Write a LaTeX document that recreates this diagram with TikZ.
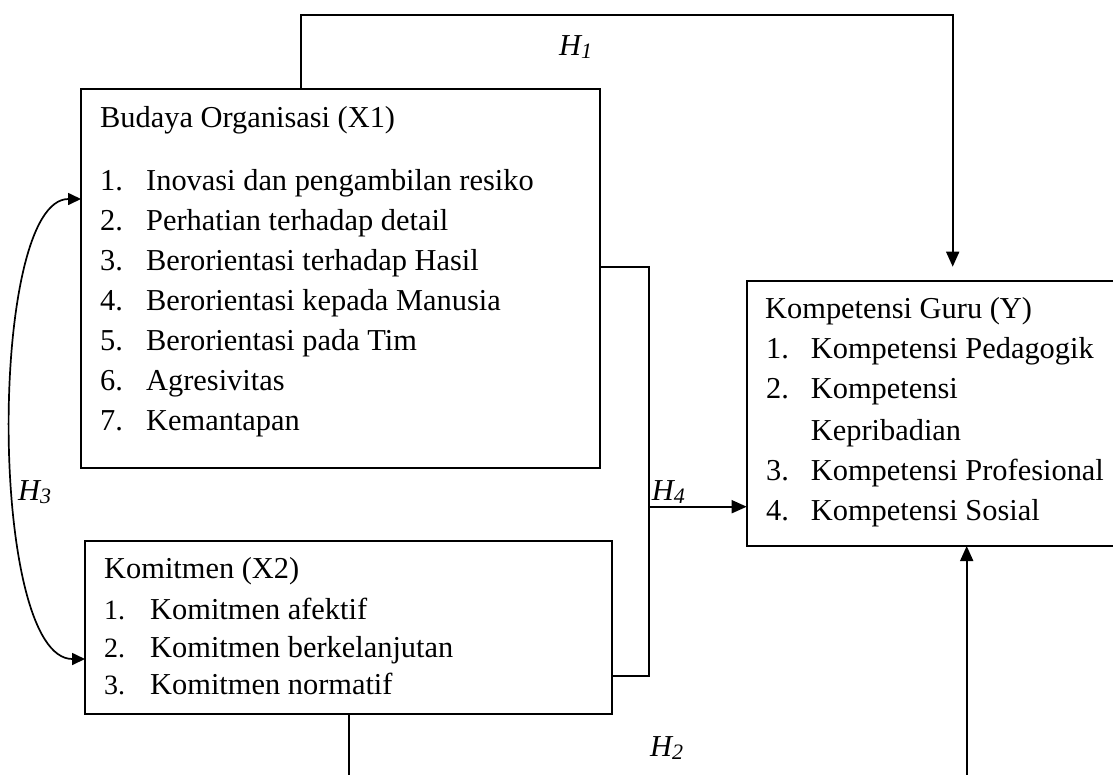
\documentclass[tikz,border=0pt]{standalone}
\usepackage{fontspec}
\setmainfont{Liberation Serif}
\usetikzlibrary{arrows.meta}
\begin{document}
\begin{tikzpicture}[x=1pt,y=-1pt,
  box/.style={draw, line width=1.9pt, inner sep=0pt, outer sep=0pt, anchor=north west},
  conn/.style={line width=1.7pt},
  arr/.style={conn, -{Triangle[length=15pt,width=13pt]}},
  txt/.style={anchor=base west, inner sep=0pt, font=\fontsize{30.4}{36}\selectfont},
  num/.style={anchor=base west, inner sep=0pt, font=\fontsize{28}{34}\selectfont},
  lab/.style={anchor=base west, inner sep=0pt, font=\fontsize{30.4}{36}\selectfont\itshape}]
\useasboundingbox (0,0) rectangle (1113,774);
\clip (0,0) rectangle (1113,774);

% boxes
\node[box, minimum width=519, minimum height=378.4] (x1) at (81,89.3) {};
\node[box, minimum width=526.7, minimum height=173.6] (x2) at (85,540.7) {};
\node[box, minimum width=383.3, minimum height=265.3] (y) at (746.7,280.7) {};

% X1 texts
\node[txt] (x1t) at (100,127) {Budaya Organisasi (X1)};
\foreach \t [count=\k] in {Inovasi dan pengambilan resiko, Perhatian terhadap detail, Berorientasi terhadap Hasil, Berorientasi kepada Manusia, Berorientasi pada Tim, Agresivitas, Kemantapan} {
  \node[txt] (x1n\k) at (100,150+40*\k) {\k.};
  \node[txt] (x1i\k) at (146,150+40*\k) {\t};
}

% X2 texts
\node[txt] (x2t) at (104,578) {Komitmen (X2)};
\node[num] (x2n1) at (104,619) {1.};
\node[txt] (x2i1) at (150,619) {Komitmen afektif};
\node[num] (x2n2) at (104,657) {2.};
\node[txt] (x2i2) at (150,657) {Komitmen berkelanjutan};
\node[num] (x2n3) at (104,694) {3.};
\node[txt] (x2i3) at (150,694) {Komitmen normatif};

% Y texts
\node[txt] (yt) at (765,318) {Kompetensi Guru (Y)};
\node[txt] (yn1) at (766,358) {1.};
\node[txt] (yi1) at (810.7,358) {Kompetensi Pedagogik};
\node[txt] (yn2) at (766,398) {2.};
\node[txt] (yi2) at (810.7,398) {Kompetensi};
\node[txt] (yi2b) at (810.7,440) {Kepribadian};
\node[txt] (yn3) at (766,480) {3.};
\node[txt] (yi3) at (810.7,480) {Kompetensi Profesional};
\node[txt] (yn4) at (766,520) {4.};
\node[txt] (yi4) at (810.7,520) {Kompetensi Sosial};

% labels
\node[lab] (h1) at (559,55) {H\raisebox{-3pt}{\fontsize{22}{22}\selectfont 1}};
\node[lab] (h2) at (650,756) {H\raisebox{-3pt}{\fontsize{22}{22}\selectfont 2}};
\node[lab] (h3) at (18,500) {H\raisebox{-3pt}{\fontsize{22}{22}\selectfont 3}};
\node[lab] (h4) at (651.7,500) {H\raisebox{-3pt}{\fontsize{22}{22}\selectfont 4}};

% H1
\coordinate (h1s) at (300.7,14.7);
\coordinate (h1t) at (952.7,14.7);
\coordinate (h1e) at (952.7,266.7);
\draw[arr] (x1.north -| h1s) -- (h1s) -- (h1t) -- (h1e);

% H4
\coordinate (j1) at (649.3,267);
\coordinate (j2) at (649.3,676);
\coordinate (j) at (649.3,506.7);
\draw[conn] (x1.east |- j1) -- (j1) -- (j2) -- (x2.east |- j2);
\draw[arr] (j) -- (y.west |- j);

% H2
\coordinate (h2a) at (348.7,780);
\draw[conn] (x2.south -| h2a) -- (h2a);
\coordinate (h2b) at (966.7,780);
\draw[arr] (h2b) -- (y.south -| h2b);

% H3
\coordinate (h3a) at (0,199);
\coordinate (h3b) at (0,659);
\draw[conn, {Triangle[length=13pt,width=12pt]}-{Triangle[length=13pt,width=12pt]}]
  (x1.west |- h3a) .. controls (-12,199) and (-12,659) .. (x2.west |- h3b);
\end{tikzpicture}
\end{document}
